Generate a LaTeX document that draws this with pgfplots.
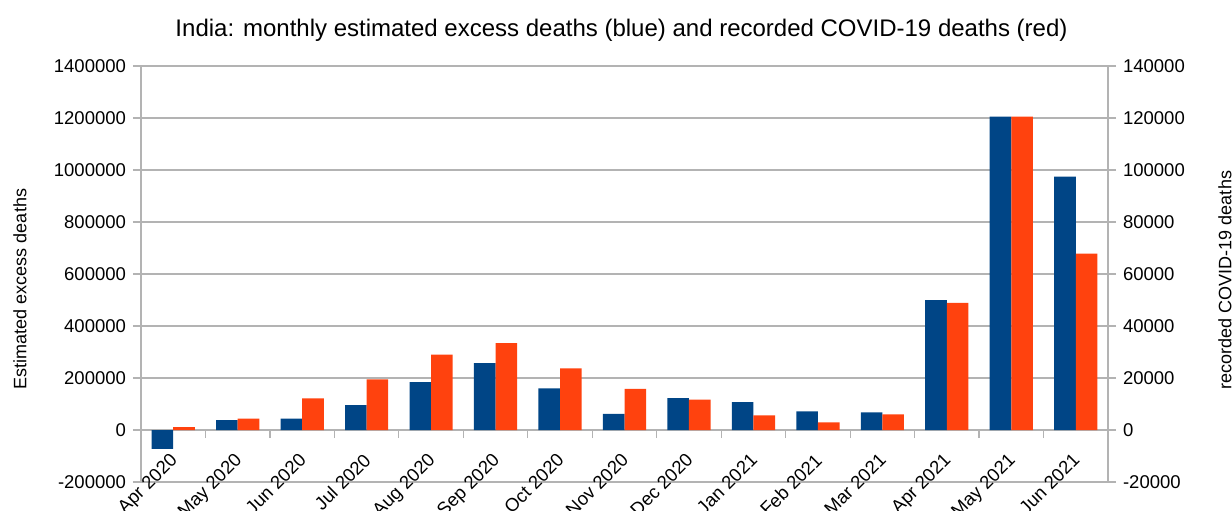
\documentclass[border=0pt]{standalone}
\usepackage{fontspec}
\setmainfont{Liberation Sans}
\usepackage{pgfplots}
\pgfplotsset{compat=1.18}
\definecolor{lobblue}{HTML}{004586}
\definecolor{lored}{HTML}{FF420E}
\definecolor{gridgray}{HTML}{B3B3B3}
\pgfplotsset{
  common/.style={
    scale only axis, width=483.5pt, height=208pt,
    xmin=-0.5, xmax=14.5,
    tick align=outside, major tick length=4pt,
    tick style={gridgray, line width=0.6pt},
    axis line style={gridgray, line width=0.6pt},
    scaled y ticks=false,
    ticklabel style={font=\fontsize{9.25}{11}\selectfont, text=black},
    ybar, bar width=10.8pt,
    hide obscured y ticks=false, hide obscured x ticks=false,
  }
}
\begin{document}
\begin{tikzpicture}
\begin{axis}[common,
  axis y line*=left, axis x line*=middle,
  ymin=-200000, ymax=1400000, ytick={-200000,0,200000,400000,600000,800000,1000000,1200000,1400000},
  yticklabels={-200000,0,200000,400000,600000,800000,1000000,1200000,1400000},
  ymajorgrids, grid style={gridgray, line width=0.6pt},
  xtick={-0.5,0.5,1.5,2.5,3.5,4.5,5.5,6.5,7.5,8.5,9.5,10.5,11.5,12.5,13.5,14.5},
  x tick label as interval,
  xticklabels={Apr 2020,May 2020,Jun 2020,Jul 2020,Aug 2020,Sep 2020,Oct 2020,Nov 2020,Dec 2020,Jan 2021,Feb 2021,Mar 2021,Apr 2021,May 2021,Jun 2021},
  xticklabel style={rotate=45, anchor=north east, xshift=-3pt},
]
\addplot[fill=lobblue, draw=none, bar shift=-5.4pt] coordinates {
(0,-73000) (1,38000) (2,43500) (3,96000) (4,184000) (5,257000) (6,160000) (7,62500)
(8,123000) (9,107500) (10,72000) (11,68000) (12,500000) (13,1205000) (14,975000)};
\end{axis}
\begin{axis}[common,
  axis y line*=right, axis x line=none,
  ymin=-20000, ymax=140000, ytick={-20000,0,20000,40000,60000,80000,100000,120000,140000},
  yticklabels={-20000,0,20000,40000,60000,80000,100000,120000,140000},
]
\addplot[fill=lored, draw=none, bar shift=5.4pt] coordinates {
(0,1150) (1,4400) (2,12200) (3,19500) (4,29000) (5,33400) (6,23700) (7,15800)
(8,11650) (9,5650) (10,2950) (11,6000) (12,48900) (13,120500) (14,67800)};
\end{axis}
\node[font=\fontsize{12}{14}\selectfont] at (240.25pt,226pt) {India: monthly estimated excess deaths (blue) and recorded COVID-19 deaths (red)};
\node[rotate=90, font=\fontsize{9}{11}\selectfont] at (-60.5pt,96.5pt) {Estimated excess deaths};
\node[rotate=90, font=\fontsize{9}{11}\selectfont] at (542pt,101pt) {recorded COVID-19 deaths};
\pgfresetboundingbox
\path[use as bounding box] (-70.5pt,-14pt) rectangle (545.5pt,241pt);
\end{tikzpicture}
\end{document}
